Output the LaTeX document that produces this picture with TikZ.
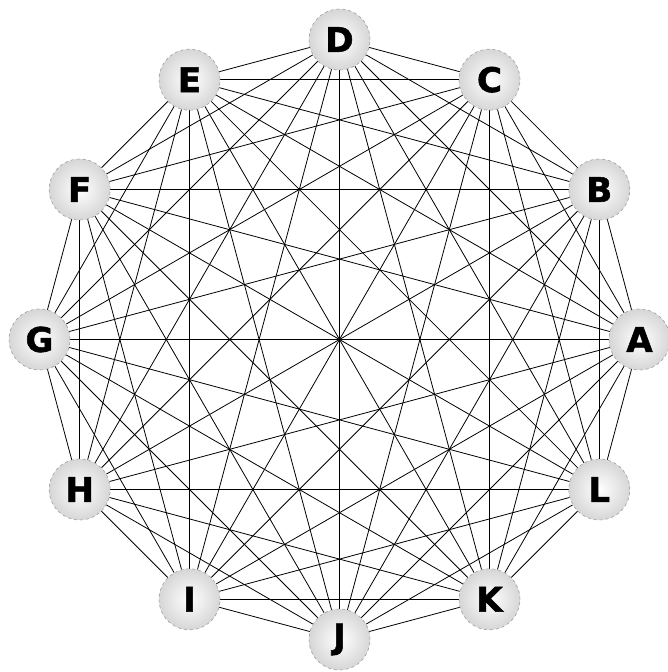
\documentclass[tikz,border=0pt]{standalone}
\usepackage{fontspec}
\setmainfont{DejaVu Sans}
\newfontfamily\heavyfont[FakeBold=1.6]{DejaVu Sans Bold}
\usetikzlibrary{backgrounds}
\begin{document}
\begin{tikzpicture}[x=1pt,y=1pt,
  vert/.style={circle, minimum size=61pt, inner sep=0pt, draw=gray!75, dashed, line width=0.6pt,
     inner color=white, outer color=gray!32, font=\fontsize{34}{34}\heavyfont},
  edge/.style={black, line width=0.8pt}]
\useasboundingbox (0,0) rectangle (667,672);
\foreach \n [count=\i from 0] in {A,B,C,D,E,F,G,H,I,J,K,L}{
  \node[vert] (\n) at ([shift={(339.5,332.5)}]\i*30:300) {\n};
}
\begin{scope}[on background layer]
\foreach \a [count=\i] in {A,B,C,D,E,F,G,H,I,J,K,L}{
  \foreach \b [count=\j] in {A,B,C,D,E,F,G,H,I,J,K,L}{
    \ifnum\j>\i \draw[edge] (\a) -- (\b); \fi
  }
}
\end{scope}
\end{tikzpicture}
\end{document}
